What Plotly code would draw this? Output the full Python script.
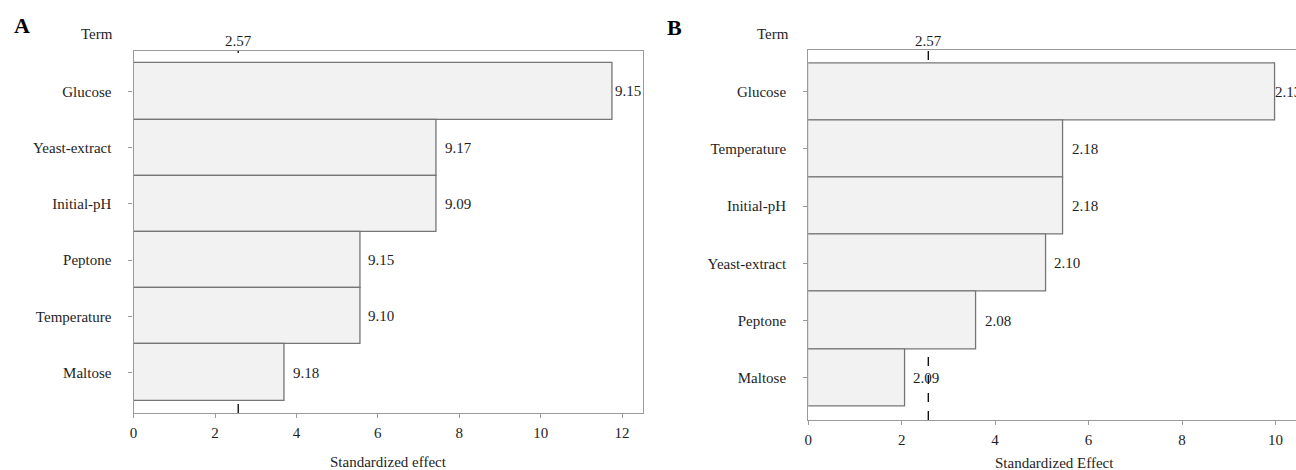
import plotly.graph_objects as go

# Panel A: standardized effects of the screened factors
terms_a = ["Glucose", "Yeast-extract", "Initial-pH", "Peptone", "Temperature", "Maltose"]
effects_a = [11.77, 7.45, 7.45, 5.57, 5.57, 3.71]
labels_a = ["9.15", "9.17", "9.09", "9.15", "9.10", "9.18"]

# Panel B
terms_b = ["Glucose", "Temperature", "Initial-pH", "Yeast-extract", "Peptone", "Maltose"]
effects_b = [10.0, 5.46, 5.46, 5.09, 3.60, 2.08]
labels_b = ["2.13", "2.18", "2.18", "2.10", "2.08", "2.09"]

critical = 2.57
ticks_a = [0, 2, 4, 6, 8, 10, 12]
ticks_b = [0, 2, 4, 6, 8, 10]

W, H = 1296, 470
FONT = "Liberation Serif"
TXT = "#1e1e1e"
FS = 15
FRAME = "#9a9a9a"
BAR_EDGE = "#767676"
BAR_FILL = "#f2f2f2"


def px_x(p):
    return p / W


def px_y(p):
    return 1 - p / H


fig = go.Figure()

for terms, effects, xa, ya in [(terms_a, effects_a, "x", "y"), (terms_b, effects_b, "x2", "y2")]:
    fig.add_trace(go.Bar(
        y=terms, x=effects, orientation="h", width=1.0,
        marker=dict(color=BAR_FILL, line=dict(color=BAR_EDGE, width=1.3)),
        xaxis=xa, yaxis=ya, showlegend=False, hoverinfo="skip",
    ))

axis_font = dict(family=FONT, size=FS, color=TXT)

common_x = dict(showgrid=False, zeroline=False, showline=True, linecolor=FRAME, linewidth=1.3,
                mirror=True, ticks="outside", ticklen=4, tickcolor=FRAME, tickfont=axis_font,
                ticklabelstandoff=2)
common_y = dict(showgrid=False, zeroline=False, showline=True, linecolor=FRAME, linewidth=1.3,
                ticks="outside", ticklen=4, tickcolor=FRAME, tickfont=axis_font,
                ticklabelstandoff=14, type="category")

fig.update_layout(
    width=W, height=H,
    margin=dict(l=0, r=0, t=0, b=0),
    paper_bgcolor="white", plot_bgcolor="white",
    font=dict(family=FONT, size=FS, color=TXT),
    xaxis=dict(domain=[px_x(130), px_x(641)], range=[0, 12.515], anchor="y",
               tickvals=ticks_a, **common_x),
    yaxis=dict(domain=[px_y(413), px_y(51)], range=[5.72, -0.72], anchor="x",
               mirror=True, **common_y),
    xaxis2=dict(domain=[px_x(806.7), 1.0], range=[0, 10.44], anchor="y2",
                tickvals=ticks_b, **common_x),
    yaxis2=dict(domain=[px_y(420), px_y(49.5)], range=[5.74, -0.74], anchor="x2",
                mirror=False, **common_y),
    bargap=0,
)

# Critical-value reference lines, drawn beneath the bars
for xr, yr in [("x", "y domain"), ("x2", "y2 domain")]:
    fig.add_shape(type="line", xref=xr, yref=yr, x0=critical, x1=critical, y0=0, y1=1,
                  line=dict(color="black", width=1.3, dash="dash"), layer="below")

annotations = []

# Value labels at the end of each bar
for terms, effects, labels, xr, yr, shifts in [
    (terms_a, effects_a, labels_a, "x", "y", [0, 6, 6, 6, 6, 6]),
    (terms_b, effects_b, labels_b, "x2", "y2", [-2, 7, 7, 6, 7, 6]),
]:
    for t, v, lab, s in zip(terms, effects, labels, shifts):
        annotations.append(dict(x=v, y=t, xref=xr, yref=yr, text=lab, showarrow=False,
                                xanchor="left", yanchor="middle", xshift=s,
                                font=dict(family=FONT, size=FS, color=TXT)))

# Critical value above each frame
for xr in ["x", "x2"]:
    annotations.append(dict(x=critical, y=px_y(41), xref=xr, yref="paper", text=f"{critical:.2f}",
                            showarrow=False, xanchor="center", yanchor="middle",
                            font=dict(family=FONT, size=FS, color=TXT)))

# "Term" headers and panel letters
annotations += [
    dict(x=px_x(111), y=px_y(34), xref="paper", yref="paper", text="Term", showarrow=False,
         xanchor="right", yanchor="middle", font=dict(family=FONT, size=FS, color=TXT)),
    dict(x=px_x(789), y=px_y(34), xref="paper", yref="paper", text="Term", showarrow=False,
         xanchor="right", yanchor="middle", font=dict(family=FONT, size=FS, color=TXT)),
    dict(x=px_x(8), y=px_y(25), xref="paper", yref="paper", text="<b>A</b>", showarrow=False,
         xanchor="left", yanchor="middle", font=dict(family=FONT, size=22, color="black")),
    dict(x=px_x(663), y=px_y(27), xref="paper", yref="paper", text="<b>B</b>", showarrow=False,
         xanchor="left", yanchor="middle", font=dict(family=FONT, size=22, color="black")),
    # x-axis titles
    dict(x=px_x(385.5), y=px_y(462), xref="paper", yref="paper", text="Standardized effect",
         showarrow=False, xanchor="center", yanchor="middle",
         font=dict(family=FONT, size=FS, color=TXT)),
    dict(x=px_x(1054), y=px_y(463), xref="paper", yref="paper", text="Standardized Effect",
         showarrow=False, xanchor="center", yanchor="middle",
         font=dict(family=FONT, size=FS, color=TXT)),
]

fig.update_layout(annotations=annotations)

fig.write_html("out.html")
